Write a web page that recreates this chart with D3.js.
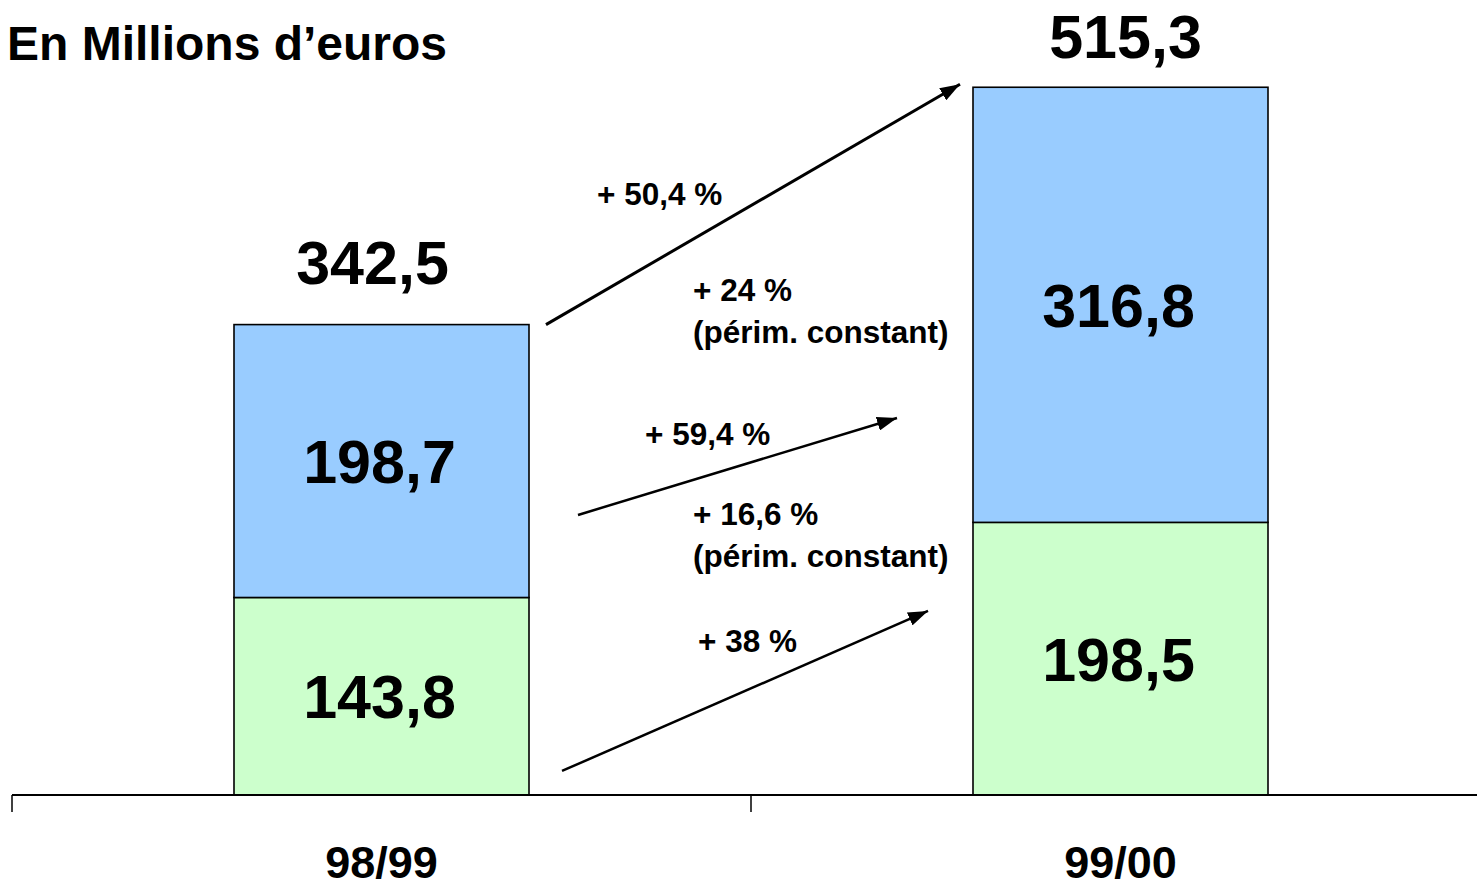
<!DOCTYPE html>
<html>
<head>
<meta charset="utf-8">
<script src="https://cdn.jsdelivr.net/npm/d3@7"></script>
<style>
  html, body { margin: 0; padding: 0; background: #fff; }
  svg { display: block; font-family: "Liberation Sans", Arial, Helvetica, sans-serif; font-weight: bold; }
</style>
</head>
<body>
<svg id="chart" width="1477" height="890"></svg>
<script>
// Fiscal years on the x axis
const periods = ["98/99", "99/00"];
// Stacked segments (millions of euros): lower green segment, upper blue segment
const lowerValues = [143.8, 198.5];
const upperValues = [198.7, 316.8];
// Totals printed above each bar
const totals = [342.5, 515.3];
// Growth annotations between the two years
const growthLabels = [
  ["+ 50,4 %"],
  ["+ 24 %", "(périm. constant)"],
  ["+ 59,4 %"],
  ["+ 16,6 %", "(périm. constant)"],
  ["+ 38 %"]
];
// Arrow endpoints in value units (y) for each growth arrow
const arrowFrom = [342.5, 203.9, 17.5];
const arrowTo = [517.5, 274.5, 134.0];

const fmt = v => d3.format(".1f")(v).replace(".", ",");

const svg = d3.select("#chart");
const W = 1477;

const x = d3.scaleBand().domain(periods).range([12, 12 + 2 * 739]).paddingInner(0).paddingOuter(0);
const y = d3.scaleLinear().domain([0, 520]).range([795, 80.8]);
const barW = 295;
const barX = p => x(p) + x.bandwidth() / 2 - barW / 2;

// Title
svg.append("text")
  .attr("x", 7).attr("y", 60)
  .attr("font-size", 48)
  .text("En Millions d\u2019euros");

// Stacked bars
const rows = periods.map((p, i) => ({ period: p, lower: lowerValues[i], upper: upperValues[i], total: totals[i] }));
const stack = d3.stack().keys(["lower", "upper"])(rows);
const fills = { lower: "#CCFFCC", upper: "#99CCFF" };

stack.forEach(layer => {
  const g = svg.append("g");
  g.selectAll("rect").data(layer).join("rect")
    .attr("x", d => barX(d.data.period))
    .attr("y", d => y(d[1]))
    .attr("width", barW)
    .attr("height", d => y(d[0]) - y(d[1]))
    .attr("fill", fills[layer.key])
    .attr("stroke", "#000")
    .attr("stroke-width", 1.6);
  g.selectAll("text").data(layer).join("text")
    .attr("x", d => x(d.data.period) + x.bandwidth() / 2 - 2)
    .attr("y", d => (y(d[0]) + y(d[1])) / 2)
    .attr("dy", "0.36em")
    .attr("text-anchor", "middle")
    .attr("font-size", 61)
    .text(d => fmt(d.data[layer.key]));
});

// Totals above bars
const totalGap = [41, 29];
const totalShift = [-9, 5];
svg.selectAll("text.total").data(rows).join("text")
  .attr("class", "total")
  .attr("x", (d, i) => x(d.period) + x.bandwidth() / 2 + totalShift[i])
  .attr("y", (d, i) => y(d.total) - totalGap[i])
  .attr("text-anchor", "middle")
  .attr("font-size", 61)
  .text(d => fmt(d.total));

// Category axis
const axis = d3.axisBottom(x).tickSizeOuter(0).tickSizeInner(0).tickFormat("");
const axG = svg.append("g").attr("transform", `translate(0,${y(0)})`).call(axis);
axG.select(".domain").attr("stroke", "#000").attr("stroke-width", 2).attr("d", `M12,0H${W}`);
axG.selectAll(".tick").remove();
// boundary ticks between categories
const bounds = [x(periods[0]), x(periods[1])];
svg.selectAll("line.bound").data(bounds).join("line")
  .attr("class", "bound")
  .attr("x1", d => d).attr("x2", d => d)
  .attr("y1", y(0)).attr("y2", y(0) + 17)
  .attr("stroke", "#000").attr("stroke-width", 1.5);
svg.selectAll("text.cat").data(periods).join("text")
  .attr("class", "cat")
  .attr("x", d => x(d) + x.bandwidth() / 2)
  .attr("y", 878)
  .attr("text-anchor", "middle")
  .attr("font-size", 45)
  .text(d => d);

// Arrowhead
svg.append("defs").append("marker")
  .attr("id", "head")
  .attr("markerUnits", "userSpaceOnUse")
  .attr("viewBox", "0 0 20 14")
  .attr("refX", 20).attr("refY", 7)
  .attr("markerWidth", 20).attr("markerHeight", 14)
  .attr("orient", "auto")
  .append("path").attr("d", "M0,0L20,7L0,14Z").attr("fill", "#000");

// Arrow horizontal offsets from the facing bar edges
const leftEdge = barX(periods[0]) + barW;
const rightEdge = barX(periods[1]);
const arrowDx = [[17, -13], [49, -76], [33, -45]];
const arrowW = [3, 2.5, 2.5];
svg.selectAll("line.arrow").data(arrowFrom).join("line")
  .attr("class", "arrow")
  .attr("x1", (d, i) => leftEdge + arrowDx[i][0])
  .attr("y1", d => y(d))
  .attr("x2", (d, i) => rightEdge + arrowDx[i][1])
  .attr("y2", (d, i) => y(arrowTo[i]))
  .attr("stroke", "#000")
  .attr("stroke-width", (d, i) => arrowW[i])
  .attr("marker-end", "url(#head)");

// Growth annotation texts
const labelPos = [[597, 205], [693, 301], [645, 445], [693, 525], [698, 652]];
growthLabels.forEach((lines, i) => {
  const t = svg.append("text")
    .attr("x", labelPos[i][0]).attr("y", labelPos[i][1])
    .attr("font-size", 31.5);
  lines.forEach((s, j) => {
    t.append("tspan").attr("x", labelPos[i][0]).attr("dy", j === 0 ? 0 : 42).text(s);
  });
});
</script>
</body>
</html>
